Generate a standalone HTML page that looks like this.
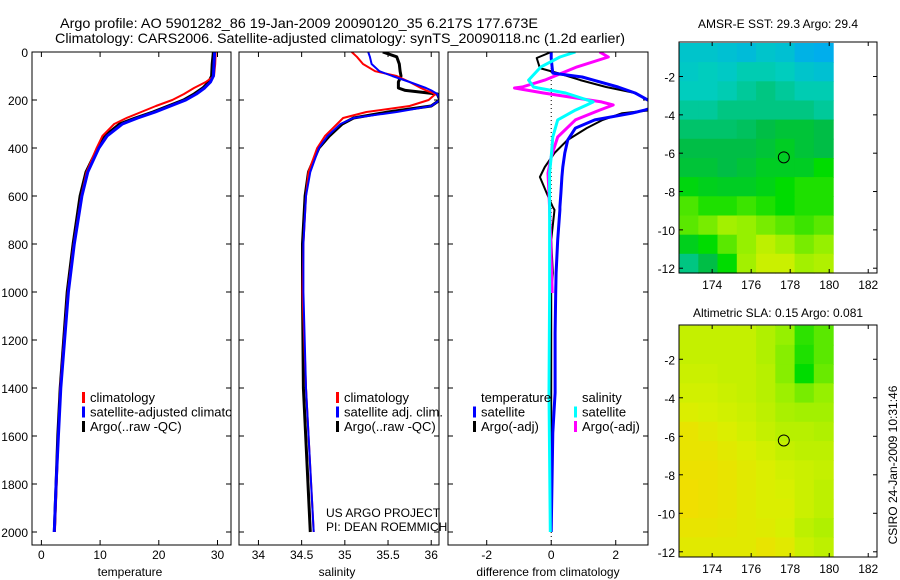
<!DOCTYPE html>
<html><head><meta charset="utf-8"><style>
html,body{margin:0;padding:0;background:#fff;}
svg{display:block;font-family:"Liberation Sans",Arial,sans-serif;}
</style></head><body>
<svg id="fig" width="900" height="580" viewBox="0 0 900 580" xmlns="http://www.w3.org/2000/svg">
<rect width="900" height="580" fill="#fff"/>
<defs><clipPath id="legclip"><rect x="32" y="0" width="199" height="580"/></clipPath></defs>
<text x="60" y="28" font-size="14" textLength="478" lengthAdjust="spacingAndGlyphs">Argo profile: AO 5901282_86 19-Jan-2009 20090120_35 6.217S 177.673E</text>
<text x="55" y="43" font-size="14" textLength="570" lengthAdjust="spacingAndGlyphs">Climatology: CARS2006. Satellite-adjusted climatology: synTS_20090118.nc (1.2d earlier)</text>
<text x="778" y="28" font-size="12" text-anchor="middle">AMSR-E SST: 29.3 Argo: 29.4</text>
<text x="778" y="317" font-size="12" text-anchor="middle">Altimetric SLA: 0.15 Argo: 0.081</text>
<text x="0" y="0" font-size="12" text-anchor="middle" transform="translate(897,465) rotate(-90)">CSIRO 24-Jan-2009 10:31:46</text>
<g id="layer"></g>
</svg>
<script>
// ---------- profile data ----------
const depthT = [0,50,100,125,150,175,200,225,250,275,300,350,400,500,600,800,1000,1400,1600,1800,2000];
const tempClim = [29.7,29.6,29.4,28,26,24.3,22.3,19.5,17,14.5,12.4,10.4,9.4,7.7,6.8,5.5,4.5,3.2,2.9,2.6,2.3];
const tempSat = [29.5,29.4,29.3,28.8,27.8,26.4,24.6,22,19.4,16.4,13.8,11.2,9.8,7.9,6.9,5.6,4.6,3.3,2.9,2.5,2.2];
const tempArgo = [29.3,29.1,29.0,28.5,27.5,26,24.2,21.6,19,16,13.3,10.8,9.6,7.6,6.6,5.4,4.4,3.2,2.8,2.5,2.2];
const depthS = [0,20,50,80,100,125,150,160,175,200,225,250,275,300,350,400,500,600,800,1000,1400,2000];
const salClim = [35.08,35.14,35.21,35.35,35.6,35.75,35.88,35.94,36.05,35.97,35.75,35.25,34.98,34.91,34.77,34.68,34.58,34.55,34.52,34.51,34.55,34.64];
const salSat = [35.27,35.29,35.31,35.4,35.55,35.75,35.94,36.0,36.07,36.1,36.0,35.6,35.1,34.95,34.8,34.7,34.6,34.55,34.52,34.52,34.55,34.64];
const salArgo = [35.44,35.6,35.63,35.64,35.65,35.62,35.62,35.7,36.07,36.1,36.0,35.5,35.1,34.97,34.82,34.7,34.58,34.54,34.51,34.51,34.52,34.6];
const depthDT = [0,25,67,88,104,117,146,171,208,229,242,255,283,317,367,421,479,521,588,646,658,783,921,1004,1171,1420,1587,2000];
const dTsat = [0,0,0.03,0.05,0.96,1.3,2.07,2.6,3.1,3.2,2.9,2.5,1.35,0.75,0.51,0.42,0.36,0.33,0.3,0.27,0.27,0.2,0.15,0.14,0.12,0.12,0.05,0];
const dTargo = [0,-0.45,-0.35,0.2,0.6,0.9,1.7,2.6,3.1,3.2,3.1,2.2,1.6,1.1,0.5,0.1,-0.2,-0.35,-0.14,0.05,0.1,0,0.05,0,0,0,0,0];
const depthDS = [0,21,62,117,146,150,171,208,221,242,283,354,437,504,650,1004,1420,2000];
const dSargo = [1.5,1.77,0.8,-0.2,-0.9,-1.14,-0.24,1.56,1.92,1.5,0.75,0.2,0,-0.1,-0.05,0.03,null,null];
const dSsat = [0.75,0.27,-0.32,-0.7,-0.55,-0.4,0.45,1.3,1.1,0.75,0.2,0.05,0,-0.05,-0.05,-0.05,-0.07,-0.03];
const depthTicks = [0,200,400,600,800,1000,1200,1400,1600,1800,2000];
const tempTicks = [0,10,20,30];
const salTicks = [34,34.5,35,35.5,36];
const diffTicks = [-2,0,2];
// ---------- map data (colormap index 0..1), rows north->south, 8 cols of ~1 deg ----------
const mapLon = [172.3,180.2];
const mapLat = [-0.25,-12.25];
const sstGrid = [
[0.38,0.38,0.37,0.36,0.38,0.37,0.34,0.33],
[0.39,0.40,0.39,0.41,0.41,0.40,0.38,0.37],
[0.40,0.40,0.41,0.43,0.45,0.43,0.41,0.41],
[0.43,0.43,0.45,0.45,0.45,0.45,0.45,0.43],
[0.47,0.47,0.47,0.48,0.50,0.52,0.52,0.50],
[0.50,0.50,0.50,0.50,0.52,0.55,0.52,0.50],
[0.52,0.52,0.50,0.52,0.55,0.55,0.55,0.60],
[0.58,0.56,0.55,0.55,0.57,0.60,0.62,0.62],
[0.65,0.62,0.62,0.64,0.62,0.60,0.62,0.62],
[0.66,0.68,0.72,0.70,0.68,0.66,0.64,0.66],
[0.56,0.60,0.66,0.70,0.76,0.72,0.68,0.70],
[0.45,0.50,0.60,0.72,0.78,0.78,0.72,0.74]];
const slaGrid = [
[0.77,0.77,0.77,0.77,0.74,0.70,0.63,0.66],
[0.77,0.77,0.77,0.77,0.74,0.69,0.62,0.66],
[0.78,0.78,0.77,0.77,0.75,0.69,0.60,0.67],
[0.79,0.79,0.78,0.77,0.75,0.71,0.68,0.70],
[0.81,0.80,0.79,0.78,0.76,0.73,0.72,0.72],
[0.85,0.83,0.81,0.79,0.77,0.75,0.75,0.74],
[0.85,0.85,0.83,0.81,0.79,0.77,0.76,0.76],
[0.86,0.86,0.85,0.83,0.81,0.79,0.78,0.77],
[0.87,0.86,0.85,0.83,0.81,0.80,0.78,0.76],
[0.87,0.86,0.85,0.83,0.81,0.81,0.78,0.76],
[0.85,0.85,0.84,0.83,0.82,0.80,0.76,0.74],
[0.83,0.83,0.83,0.83,0.85,0.83,0.78,0.76]];
const lonTicks = [174,176,178,180,182];
const latTicks = [-2,-4,-6,-8,-10,-12];
const argoPos = [177.673,-6.217];

const NS='http://www.w3.org/2000/svg';
const layer=document.getElementById('layer');
function mk(tag,attrs,parent){const e=document.createElementNS(NS,tag);for(const k in attrs)e.setAttribute(k,attrs[k]);(parent||layer).appendChild(e);return e;}
function txt(s,x,y,anchor,size,parent){const t=mk('text',{x:x,y:y,'text-anchor':anchor||'start','font-size':size||12},parent);t.textContent=s;return t;}

const top0=52, pxPer=0.24, bottom=545;
const yD=d=>top0+d*pxPer;
const panels=[
 {name:'temperature',x0:32,x1:231,v0:-1.6,v1:32.3,ticks:tempTicks,label:'temperature',lx:130},
 {name:'salinity',x0:239,x1:439,v0:33.775,v1:36.09,ticks:salTicks,label:'salinity',lx:337},
 {name:'difference',x0:448,x1:648,v0:-3.2,v1:3.0,ticks:diffTicks,label:'difference from climatology',lx:548}
];
function xf(p){return v=>p.x0+(v-p.v0)/(p.v1-p.v0)*(p.x1-p.x0);}
panels.forEach((p,i)=>{
  const g=mk('g',{});
  
  
  const cp=mk('clipPath',{id:'cp'+i},g);
  mk('rect',{x:p.x0,y:top0,width:p.x1-p.x0,height:bottom-top0},cp);
  const X=xf(p);
  p.X=X; p.g=g;
  p.ticks.forEach(t=>{
    const x=X(t);
    const tk=mk('line',{x1:x,x2:x,y1:bottom,y2:bottom-5,stroke:'#000'},g);
    
    
    mk('line',{x1:x,x2:x,y1:top0,y2:top0+5,stroke:'#000'},g);
    const l=txt(String(t),x,559,'middle',12,g);
    
    
  });
  depthTicks.forEach(d=>{
    const y=yD(d);
    mk('line',{x1:p.x0,x2:p.x0+5,y1:y,y2:y,stroke:'#000'},g);
    mk('line',{x1:p.x1,x2:p.x1-5,y1:y,y2:y,stroke:'#000'},g);
    if(i===0){const l=txt(String(d),p.x0-4,y+5,'end',12,g);
      
      }
  });
  const xl=txt(p.label,p.lx,576,'middle',12,g);
  
  
  p.plot=mk('g',{'clip-path':'url(#cp'+i+')'},g);
  const fr=mk('rect',{x:p.x0,y:top0,width:p.x1-p.x0,height:bottom-top0,fill:'none',stroke:'#000','stroke-width':1},g);
  
  
});
function line(p,depths,vals,color,w,name){
  let d='',started=false;
  depths.forEach((dd,k)=>{const v=vals[k]; if(v===null||v===undefined){return;}
    d+=(started?'L':'M')+p.X(v).toFixed(1)+','+yD(dd).toFixed(1)+' '; started=true;});
  const e=mk('path',{d:d,fill:'none',stroke:color,'stroke-width':w,'stroke-linejoin':'round'},p.plot);
  
  
}
const [P1,P2,P3]=panels;
line(P1,depthT,tempArgo,'#000',3,'temp-argo-line');
line(P1,depthT,tempClim,'#f00',2,'temp-climatology-line');
line(P1,depthT,tempSat,'#00f',3,'temp-satellite-line');
line(P2,depthS,salArgo,'#000',3,'sal-argo-line');
line(P2,depthS,salClim,'#f00',2,'sal-climatology-line');
line(P2,depthS,salSat,'#00f',2,'sal-satellite-line');
const zl=mk('line',{x1:P3.X(0),x2:P3.X(0),y1:top0,y2:bottom,stroke:'#000','stroke-dasharray':'1,3'},P3.plot);


line(P3,depthDT,dTargo,'#000',2,'dtemp-argo-line');
line(P3,depthDS,dSargo,'#f0f',3,'dsal-argo-line');
line(P3,depthDT,dTsat,'#00f',3,'dtemp-satellite-line');
line(P3,depthDS,dSsat,'#0ff',3,'dsal-satellite-line');

function legend(items,mx,y0,step,name,clip){
  const g=mk('g',{});
  
  
  if(clip) g.setAttribute('clip-path',clip);
  items.forEach((it,k)=>{
    const y=y0+k*step;
    if(it[1]){const m=mk('rect',{x:mx,y:y-10,width:3,height:11,fill:it[1]},g);
      
      }
    const t=txt(it[0],mx+8,y,'start',13,g);
    
    
  });
}
legend([['climatology','#f00'],['satellite-adjusted climatology','#00f'],['Argo(..raw -QC)','#000']],82,402,14.5,'temperature-legend','url(#legclip)');
legend([['climatology','#f00'],['satellite adj. clim.','#00f'],['Argo(..raw -QC)','#000']],336,402,14.5,'salinity-legend');
legend([['temperature',null],['satellite','#00f'],['Argo(-adj)','#000']],473,402,14.5,'diff-temp-legend');
legend([['salinity',null],['satellite','#0ff'],['Argo(-adj)','#f0f']],574,402,14.5,'diff-sal-legend');
const n1=txt('US ARGO PROJECT',326,517,'start',12);  
const n2=txt('PI: DEAN ROEMMICH',326,531,'start',12);  

const cstops=[[0,[0,0,128]],[0.15,[0,0,255]],[0.3,[0,160,255]],[0.4,[0,205,190]],[0.5,[0,190,70]],[0.6,[0,220,0]],[0.7,[150,240,0]],[0.8,[215,240,0]],[0.9,[250,215,0]],[1,[255,64,0]]];
function cmap(v){for(let k=1;k<cstops.length;k++){if(v<=cstops[k][0]){const a=cstops[k-1],b=cstops[k],t=(v-a[0])/(b[0]-a[0]);
  const c=a[1].map((q,j)=>Math.round(q+(b[1][j]-q)*t));return 'rgb('+c.join(',')+')';}}return 'rgb(255,64,0)';}
function drawMap(grid,ax,name){
  const g=mk('g',{});
  
  
  const X=lon=>ax.x0+(lon-ax.lon0)/(ax.lon1-ax.lon0)*(ax.x1-ax.x0);
  const Y=lat=>ax.y0+(lat-ax.lat0)/(ax.lat1-ax.lat0)*(ax.y1-ax.y0);
  const rows=grid.length, cols=grid[0].length;
  const dLon=(mapLon[1]-mapLon[0])/cols, dLat=(mapLat[1]-mapLat[0])/rows;
  grid.forEach((row,r)=>row.forEach((v,c)=>{
    const xa=X(mapLon[0]+c*dLon), xb=X(mapLon[0]+(c+1)*dLon);
    const ya=Y(mapLat[0]+r*dLat), yb=Y(mapLat[0]+(r+1)*dLat);
    const cell=mk('rect',{x:xa.toFixed(1),y:ya.toFixed(1),width:(xb-xa+0.6).toFixed(1),height:(yb-ya+0.6).toFixed(1),fill:cmap(v)},g);
    
    
  }));
  lonTicks.forEach(t=>{const x=X(t);
    mk('line',{x1:x,x2:x,y1:ax.y1,y2:ax.y1-4,stroke:'#000'},g);
    mk('line',{x1:x,x2:x,y1:ax.y0,y2:ax.y0+4,stroke:'#000'},g);
    const l=txt(String(t),x,ax.y1+16,'middle',12,g);
    
    });
  latTicks.forEach(t=>{const y=Y(t);
    mk('line',{x1:ax.x0,x2:ax.x0+4,y1:y,y2:y,stroke:'#000'},g);
    mk('line',{x1:ax.x1,x2:ax.x1-4,y1:y,y2:y,stroke:'#000'},g);
    const l=txt(String(t),ax.x0-4,y+5,'end',12,g);
    
    });
  const c=mk('circle',{cx:X(argoPos[0]),cy:Y(argoPos[1]),r:5.5,fill:'none',stroke:'#000','stroke-width':1},g);
  
  
  const f=mk('rect',{x:ax.x0,y:ax.y0,width:ax.x1-ax.x0,height:ax.y1-ax.y0,fill:'none',stroke:'#000'},g);
  
  
}
drawMap(sstGrid,{x0:679,x1:877,y0:42,y1:273,lon0:172.3,lon1:182.45,lat0:-0.2,lat1:-12.25},'sst-map');
drawMap(slaGrid,{x0:679,x1:877,y0:325,y1:557,lon0:172.3,lon1:182.45,lat0:-0.22,lat1:-12.27},'sla-map');
</script>
</body></html>
